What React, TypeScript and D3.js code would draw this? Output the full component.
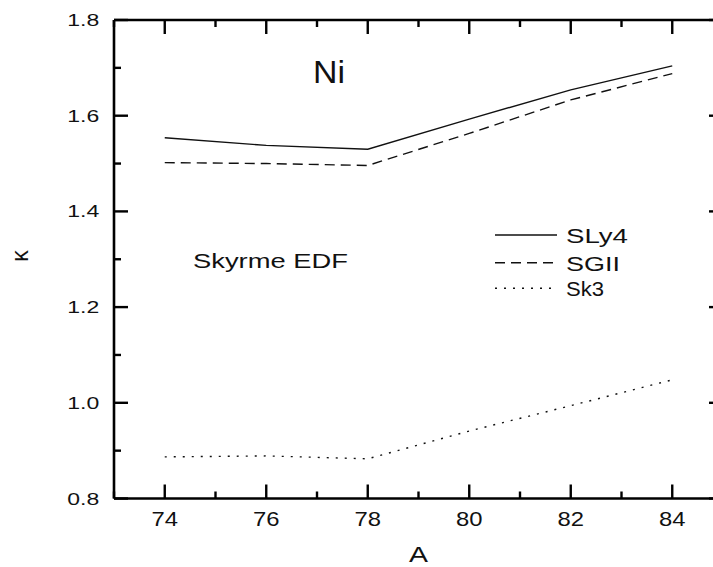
import React from "react";
import * as d3 from "d3";

// Mass numbers of the Ni isotopes
const massNumbers = [74, 76, 78, 80, 82, 84];

// kappa values for each Skyrme parametrisation
const sly4 = [1.554, 1.538, 1.530, 1.593, 1.654, 1.704];
const sgii = [1.502, 1.500, 1.496, 1.563, 1.633, 1.688];
const sk3 = [0.887, 0.889, 0.883, 0.941, 0.994, 1.048];

const xTicks = [74, 76, 78, 80, 82, 84];
const yTicks = [0.8, 1.0, 1.2, 1.4, 1.6, 1.8];

const seriesNames = ["SLy4", "SGII", "Sk3"];
const seriesDash = ["none", "10,6", "2,7"];
const legendWidths = [62, 54, 38];

const W = 713;
const H = 567;
const FONT = "'Liberation Sans', Arial, Helvetica, sans-serif";

// Text drawn with a wide aspect: glyphs are stretched to a given width.
function WideText(props: {
  x: number;
  y: number;
  size: number;
  width: number;
  anchor?: "start" | "middle" | "end";
  children: React.ReactNode;
}) {
  const { x, y, size, width, anchor = "start", children } = props;
  const x0 = anchor === "start" ? x : anchor === "middle" ? x - width / 2 : x - width;
  return (
    <text
      x={x0}
      y={y}
      fontSize={size}
      fill="#111"
      textLength={width}
      lengthAdjust="spacingAndGlyphs"
    >
      {children}
    </text>
  );
}

export default function App() {
  const x = d3.scaleLinear().domain([73, 85]).range([114, 723]);
  const y = d3.scaleLinear().domain([0.8, 1.8]).range([498.5, 20]);

  const all = [sly4, sgii, sk3];
  const line = d3
    .line<[number, number]>()
    .x((d) => x(d[0]))
    .y((d) => y(d[1]));

  const xMinor = d3.range(73, 86, 1).filter((v) => !xTicks.includes(v));
  const yMinor = d3.range(0.9, 1.8, 0.2);

  const left = x(73);
  const right = x(85);
  const top = y(1.8);
  const bottom = y(0.8);
  const major = 14;
  const minor = 7;

  return (
    <svg
      width={W}
      height={H}
      style={{ position: "absolute", left: 0, top: 0, background: "#fff" }}
      fontFamily={FONT}
    >
      <rect width={W} height={H} fill="#fff" />

      {/* data curves */}
      {all.map((vals, i) => (
        <path
          key={seriesNames[i]}
          d={line(massNumbers.map((m, j) => [m, vals[j]] as [number, number])) || ""}
          fill="none"
          stroke="#111"
          strokeWidth={1.4}
          strokeDasharray={seriesDash[i] === "none" ? undefined : seriesDash[i]}
        />
      ))}

      {/* frame */}
      <g stroke="#000" strokeWidth={2.6} fill="none">
        <line x1={left} x2={right} y1={bottom} y2={bottom} />
        <line x1={left} x2={right} y1={top} y2={top} />
        <line x1={left} x2={left} y1={top} y2={bottom} />
        <line x1={right} x2={right} y1={top} y2={bottom} />
      </g>

      {/* ticks on all four sides, pointing inward */}
      <g stroke="#000" strokeWidth={2.4}>
        {xTicks.map((t) => (
          <g key={"xt" + t}>
            <line x1={x(t)} x2={x(t)} y1={bottom} y2={bottom - major} />
            <line x1={x(t)} x2={x(t)} y1={top} y2={top + major} />
          </g>
        ))}
        {xMinor.map((t) => (
          <g key={"xm" + t}>
            <line x1={x(t)} x2={x(t)} y1={bottom} y2={bottom - minor} />
            <line x1={x(t)} x2={x(t)} y1={top} y2={top + minor} />
          </g>
        ))}
        {yTicks.map((t) => (
          <g key={"yt" + t}>
            <line x1={left} x2={left + major} y1={y(t)} y2={y(t)} />
            <line x1={right} x2={right - major} y1={y(t)} y2={y(t)} />
          </g>
        ))}
        {yMinor.map((t) => (
          <g key={"ym" + t.toFixed(1)}>
            <line x1={left} x2={left + minor} y1={y(t)} y2={y(t)} />
            <line x1={right} x2={right - minor} y1={y(t)} y2={y(t)} />
          </g>
        ))}
      </g>

      {/* tick labels */}
      {xTicks.map((t) => (
        <WideText key={"xl" + t} x={x(t)} y={526} size={21} width={26.5} anchor="middle">
          {t}
        </WideText>
      ))}
      {yTicks.map((t) => (
        <WideText key={"yl" + t} x={99.3} y={y(t) + 6} size={16.8} width={32} anchor="end">
          {d3.format(".1f")(t)}
        </WideText>
      ))}

      {/* axis titles */}
      <WideText x={x(79)} y={562} size={22} width={19} anchor="middle">
        A
      </WideText>
      <text
        transform={`translate(28.3,256) rotate(-90)`}
        textAnchor="middle"
        fontSize={23}
        fill="#111"
      >
        κ
      </text>

      {/* annotations */}
      <WideText x={313} y={83.3} size={30.5} width={32}>
        Ni
      </WideText>
      <WideText x={193} y={268.3} size={20} width={155}>
        Skyrme EDF
      </WideText>

      {/* legend */}
      {seriesNames.map((name, i) => {
        const ly = [235, 262.7, 288.3][i];
        return (
          <g key={"lg" + name}>
            <line
              x1={495}
              x2={557}
              y1={ly}
              y2={ly}
              stroke="#111"
              strokeWidth={1.4}
              strokeDasharray={seriesDash[i] === "none" ? undefined : seriesDash[i]}
            />
            <WideText x={566} y={ly + 8} size={20.5} width={legendWidths[i]}>
              {name}
            </WideText>
          </g>
        );
      })}
    </svg>
  );
}
